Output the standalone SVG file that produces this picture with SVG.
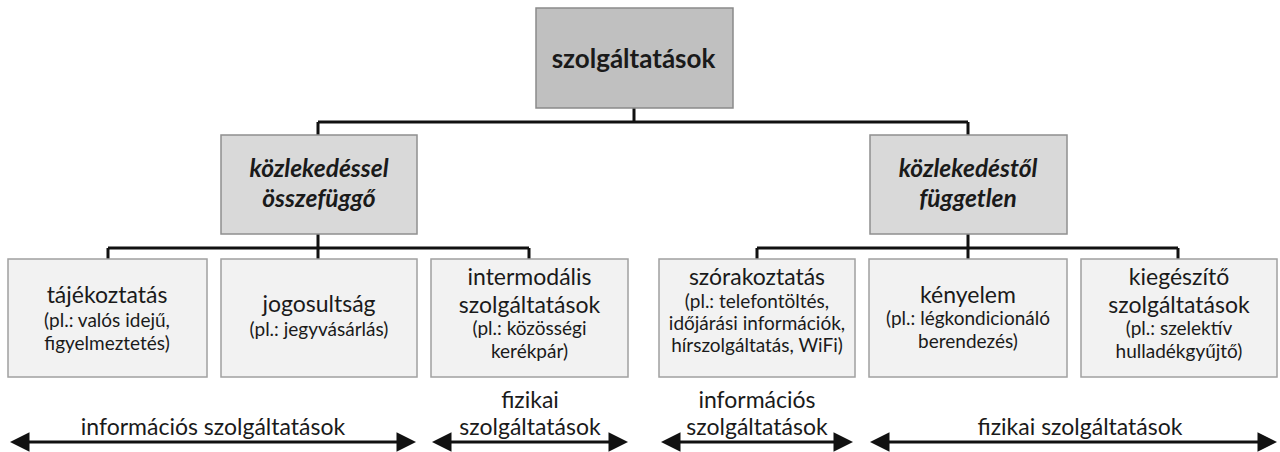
<svg xmlns="http://www.w3.org/2000/svg" width="1280" height="452" viewBox="0 0 1280 452">
<defs>
<style>
.t{font-family:Lato,"Liberation Sans","DejaVu Sans",sans-serif;fill:#1a1a1a;text-anchor:middle}
.top{fill:#c0c0c0;stroke:#8a8a8a;stroke-width:1.5}
.mid{fill:#d9d9d9;stroke:#8f8f8f;stroke-width:1.5}
.leaf{fill:#f2f2f2;stroke:#a0a0a0;stroke-width:1.5}
.h1{font-size:26px;font-weight:bold}
.h2{font-size:24.5px;font-weight:bold;font-style:italic}
.h3{font-size:23px}
.s{font-size:19px}
.lab{font-size:23px}
.con{fill:none;stroke:#111;stroke-width:3}
.arr{stroke:#111;stroke-width:3;marker-start:url(#ah);marker-end:url(#ah)}
</style>
<marker id="ah" viewBox="0 0 10 10" refX="5.9" refY="5" markerWidth="6.5" markerHeight="7" markerUnits="strokeWidth" orient="auto-start-reverse">
<path d="M0,0 L10,5 L0,10 z" fill="#111"/>
</marker>
</defs>
<rect width="1280" height="452" fill="#ffffff"/>
<g id="connectors">
<path class="con" d="M634,108 V122 M318,122 H968 M318,122 V135 M968,122 V135"/>
<path class="con" d="M318,234 V248 M108,248 H529 M108,248 V259 M318,248 V259 M529,248 V259"/>
<path class="con" d="M968,234 V248 M757,248 H1178 M757,248 V259 M968,248 V259 M1178,248 V259"/>
</g>
<g id="szolgaltatasok">
<rect class="top" x="536" y="8" width="197" height="100"/>
<text class="t h1" x="633.5" y="68">szolgáltatások</text>
</g>
<g id="kozlekedessel">
<rect class="mid" x="221" y="135" width="196" height="99"/>
<text class="t h2" x="319" y="177">közlekedéssel</text>
<text class="t h2" x="319" y="207">összefüggő</text>
</g>
<g id="kozlekedestol">
<rect class="mid" x="870" y="135" width="197" height="99"/>
<text class="t h2" x="968" y="177">közlekedéstől</text>
<text class="t h2" x="968" y="207">független</text>
</g>
<g id="tajekoztatas">
<rect class="leaf" x="8" y="259" width="199" height="118"/>
<text class="t h3" x="107" y="303">tájékoztatás</text>
<text class="t s" x="107" y="327">(pl.: valós idejű,</text>
<text class="t s" x="107" y="350">figyelmeztetés)</text>
</g>
<g id="jogosultsag">
<rect class="leaf" x="221" y="259" width="196" height="118"/>
<text class="t h3" x="319" y="312">jogosultság</text>
<text class="t s" x="319" y="336">(pl.: jegyvásárlás)</text>
</g>
<g id="intermodalis">
<rect class="leaf" x="431" y="259" width="197" height="118"/>
<text class="t h3" x="529.5" y="285">intermodális</text>
<text class="t h3" x="529.5" y="313">szolgáltatások</text>
<text class="t s" x="529.5" y="335">(pl.: közösségi</text>
<text class="t s" x="529.5" y="358">kerékpár)</text>
</g>
<g id="szorakoztatas">
<rect class="leaf" x="659" y="259" width="196" height="118"/>
<text class="t h3" x="757" y="285">szórakoztatás</text>
<text class="t s" x="757" y="308">(pl.: telefontöltés,</text>
<text class="t s" x="757" y="330">időjárási információk,</text>
<text class="t s" x="757" y="352">hírszolgáltatás, WiFi)</text>
</g>
<g id="kenyelem">
<rect class="leaf" x="869" y="259" width="198" height="118"/>
<text class="t h3" x="968" y="303">kényelem</text>
<text class="t s" x="968" y="325">(pl.: légkondicionáló</text>
<text class="t s" x="968" y="348">berendezés)</text>
</g>
<g id="kiegeszito">
<rect class="leaf" x="1081" y="259" width="196" height="118"/>
<text class="t h3" x="1179" y="285">kiegészítő</text>
<text class="t h3" x="1179" y="313">szolgáltatások</text>
<text class="t s" x="1179" y="335">(pl.: szelektív</text>
<text class="t s" x="1179" y="358">hulladékgyűjtő)</text>
</g>
<g id="arrows">
<line class="arr" x1="18" y1="442" x2="408" y2="442"/>
<line class="arr" x1="440" y1="442" x2="620" y2="442"/>
<line class="arr" x1="669" y1="442" x2="845" y2="442"/>
<line class="arr" x1="878" y1="442" x2="1269" y2="442"/>
</g>
<g id="labels">
<text class="t lab" x="213" y="435">információs szolgáltatások</text>
<text class="t lab" x="530" y="408">fizikai</text>
<text class="t lab" x="530" y="435">szolgáltatások</text>
<text class="t lab" x="757" y="408">információs</text>
<text class="t lab" x="757" y="435">szolgáltatások</text>
<text class="t lab" x="1080" y="435">fizikai szolgáltatások</text>
</g>
</svg>
